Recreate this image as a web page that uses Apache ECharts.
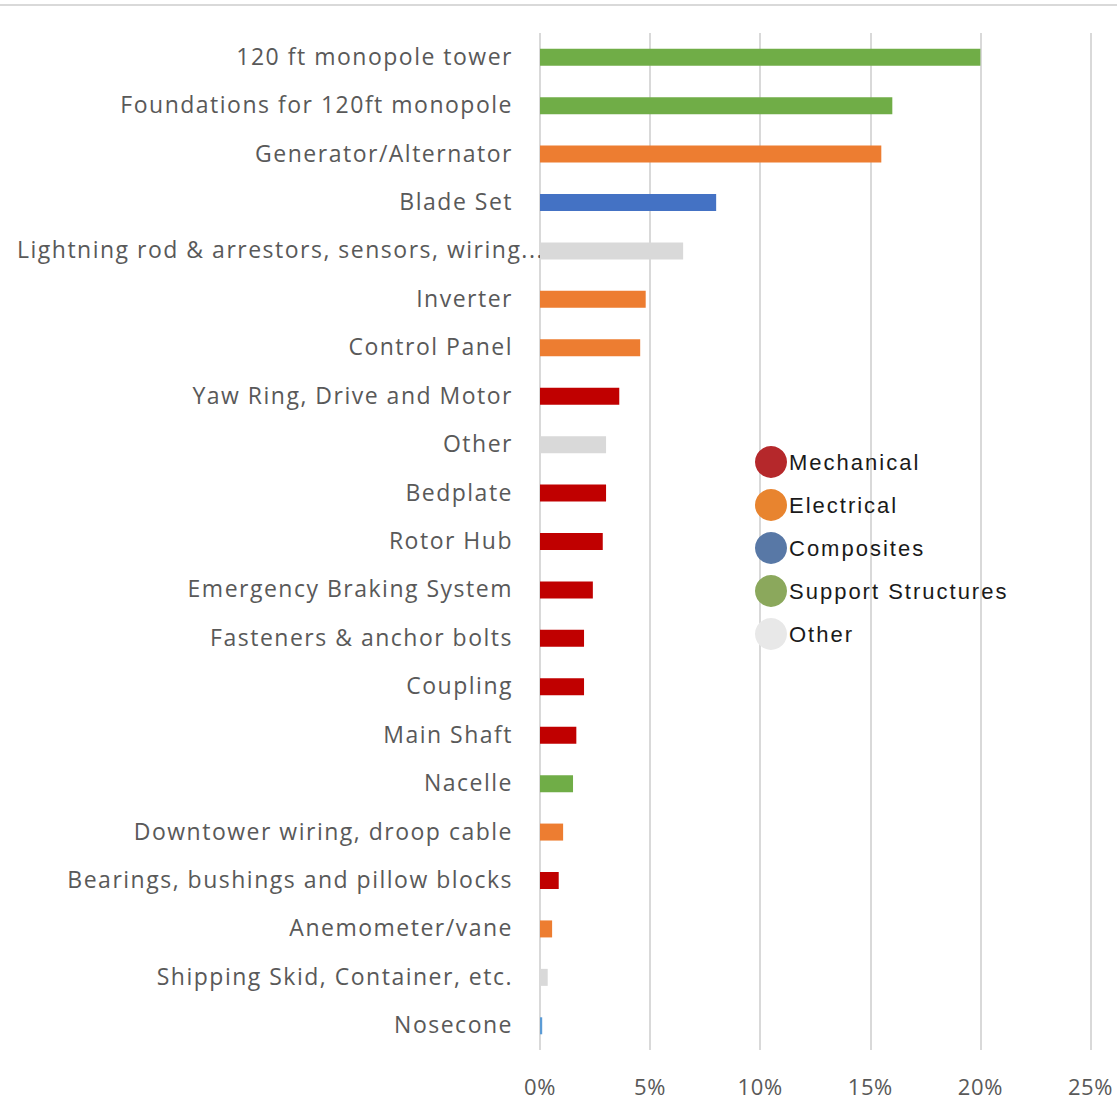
<!DOCTYPE html>
<html>
<head>
<meta charset="utf-8">
<script src="https://cdn.jsdelivr.net/npm/echarts@6/dist/echarts.min.js"></script>
<style>
  html, body { margin: 0; padding: 0; background: #ffffff; }
  #chart { width: 1117px; height: 1100px; }
  /* Widen the tracking of the category, tick and legend texts */
  #chart text[style*="DejaVu"] { letter-spacing: 1.5px; }
  #chart text[style*="Lato"] { letter-spacing: 0.6px; }
  #chart text[style*="Liberation"] { letter-spacing: 2px; }
</style>
</head>
<body>
<div id="chart"></div>
<script>
// Cost share of small wind turbine components, top to bottom
const categories = [
  '120 ft monopole tower',
  'Foundations for 120ft monopole',
  'Generator/Alternator',
  'Blade Set',
  'Lightning rod & arrestors, sensors, wiring...',
  'Inverter',
  'Control Panel',
  'Yaw Ring, Drive and Motor',
  'Other',
  'Bedplate',
  'Rotor Hub',
  'Emergency Braking System',
  'Fasteners & anchor bolts',
  'Coupling',
  'Main Shaft',
  'Nacelle',
  'Downtower wiring, droop cable',
  'Bearings, bushings and pillow blocks',
  'Anemometer/vane',
  'Shipping Skid, Container, etc.',
  'Nosecone'
];

// Share of total cost, in percent
const shares = [20, 16, 15.5, 8, 6.5, 4.8, 4.55, 3.6, 3.0, 3.0, 2.85, 2.4, 2.0, 2.0, 1.65, 1.5, 1.05, 0.85, 0.55, 0.35, 0.1];

// Component group of each category
const groups = [
  'Support Structures', 'Support Structures', 'Electrical', 'Composites', 'Other',
  'Electrical', 'Electrical', 'Mechanical', 'Other', 'Mechanical',
  'Mechanical', 'Mechanical', 'Mechanical', 'Mechanical', 'Mechanical',
  'Support Structures', 'Electrical', 'Mechanical', 'Electrical', 'Other',
  'Composites'
];

const groupNames = ['Mechanical', 'Electrical', 'Composites', 'Support Structures', 'Other'];
const barColors = ['#C00000', '#ED7D31', '#4472C4', '#70AD47', '#D9D9D9'];
const legendColors = ['#B5282B', '#E8842F', '#5878A6', '#8BA85C', '#E8E8E8'];

const tickLabels = ['0%', '5%', '10%', '15%', '20%', '25%'];

const categoryFont = '"Open Sans", "DejaVu Sans", sans-serif';
const tickFont = '"Open Sans", Lato, sans-serif';
const legendFont = '"Liberation Sans", Arial, sans-serif';

// The long, truncated label starts further left and runs past the others
const LONG_LABEL = 'Lightning rod & arrestors, sensors, wiring...';

// One stacked series per group, so each category carries a single bar
const series = groupNames.map((g, gi) => ({
  name: g,
  type: 'bar',
  stack: 'share',
  barWidth: 17,
  color: barColors[gi],
  data: shares.map((v, i) => {
    if (groups[i] !== g) return null;
    if (categories[i] === 'Nosecone') {
      return { value: v, itemStyle: { color: '#5B9BD5' } };
    }
    return v;
  })
}));

const chart = echarts.init(document.getElementById('chart'), null, { renderer: 'svg' });
chart.setOption({
  animation: false,
  backgroundColor: '#ffffff',
  grid: { left: 540, right: 26.5, top: 33, bottom: 50, containLabel: false },
  xAxis: {
    type: 'value',
    min: 0,
    max: 25,
    interval: 5,
    axisLine: { show: false },
    axisTick: { show: false },
    splitLine: { show: true, lineStyle: { color: '#D9D9D9', width: 2 } },
    axisLabel: {
      margin: 25,
      color: '#595959',
      fontSize: 22,
      fontFamily: tickFont,
      formatter: (v) => tickLabels[Math.round(v / 5)]
    }
  },
  yAxis: {
    type: 'category',
    inverse: true,
    data: categories,
    axisLine: { show: false },
    axisTick: { show: false },
    splitLine: { show: false },
    axisLabel: {
      margin: 27,
      color: '#595959',
      fontSize: 23,
      fontFamily: categoryFont,
      padding: [0, 0, 3, 0],
      formatter: (v) => (v === LONG_LABEL ? '{long|' + v + '}' : v),
      rich: {
        long: {
          width: 496,
          align: 'left',
          color: '#595959',
          fontSize: 23,
          fontFamily: categoryFont
        }
      }
    }
  },
  legend: {
    orient: 'vertical',
    left: 750,
    top: 441,
    icon: 'circle',
    itemWidth: 32,
    itemHeight: 32,
    itemGap: 11,
    textStyle: {
      color: '#1A1A1A',
      fontSize: 22,
      fontFamily: legendFont,
      padding: [0, 0, 0, -3]
    },
    data: groupNames.map((g, gi) => ({ name: g, itemStyle: { color: legendColors[gi] } }))
  },
  graphic: [{
    type: 'line',
    shape: { x1: 0, y1: 5, x2: 1117, y2: 5 },
    style: { stroke: '#D9D9D9', lineWidth: 2 },
    silent: true
  }],
  series: series
});
</script>
</body>
</html>
